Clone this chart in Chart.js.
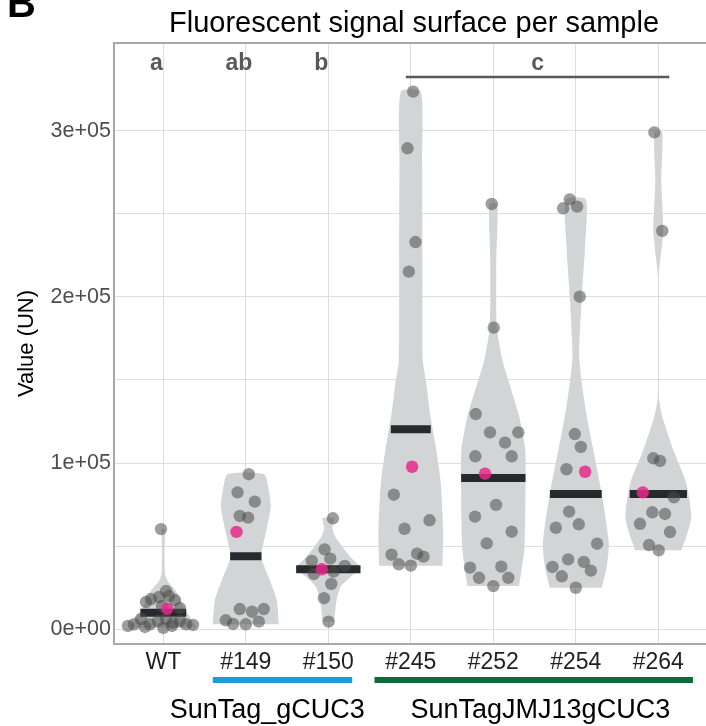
<!DOCTYPE html>
<html>
<head>
<meta charset="utf-8">
<script src="https://cdn.jsdelivr.net/npm/chart.js@4.4.1/dist/chart.umd.min.js"></script>
<style>
  html, body { margin: 0; padding: 0; background: #ffffff; overflow: hidden; }
  canvas { display: block; }
</style>
</head>
<body>
<canvas id="violinChart" width="706" height="726"></canvas>
<script>
// ================================================================
//  DATA
// ================================================================
const categories = ['WT', '#149', '#150', '#245', '#252', '#254', '#264'];

// individual measurements + their horizontal jitter (category units)
const wtValues  = [60300, 23000, 18200, 19400, 17600, 20000, 16400, 14000, 12800, 6200, 3000, 5000, 6200, 3800, 5000, 3000, 3000, 1400, 800, 2000, 2600, 2000];
const wtJitter  = [-0.028, 0.033, -0.149, -0.052, 0.142, 0.069, -0.210, -0.016, 0.202, -0.270, -0.161, -0.064, 0.033, 0.118, 0.202, 0.275, -0.355, -0.222, 0.0, 0.105, 0.360, -0.428];
const s149Values = [93300, 82400, 76800, 68200, 67200, 12200, 10600, 12200, 5400, 3200, 3000, 4600];
const s149Jitter = [0.036, -0.100, 0.109, -0.073, 0.028, -0.073, 0.076, 0.218, -0.242, -0.154, 0.0, 0.158];
const s150Values = [66800, 48100, 42500, 41100, 38100, 33300, 34700, 27300, 18700, 4600];
const s150Jitter = [0.056, -0.045, 0.024, -0.200, 0.200, -0.175, 0.064, 0.036, -0.053, 0.004];
const s245Values = [323500, 289400, 233000, 215200, 81000, 65600, 60500, 44900, 45500, 43700, 39100, 38300];
const s245Jitter = [0.028, -0.040, 0.057, -0.024, -0.206, 0.227, -0.076, -0.234, 0.076, 0.154, -0.145, 0.0];
const s252Values = [255900, 181500, 129500, 118500, 112300, 118500, 104100, 104100, 74800, 67800, 58700, 51700, 37100, 31000, 37700, 31000, 26000];
const s252Jitter = [-0.019, 0.005, -0.213, -0.040, 0.142, 0.303, -0.218, 0.223, 0.033, -0.222, 0.223, -0.080, -0.282, -0.173, 0.097, 0.182, 0.0];
const s254Values = [258700, 253300, 254300, 200100, 117500, 109700, 96300, 70800, 61100, 63200, 51500, 42100, 37500, 40500, 35300, 31900, 25000];
const s254Jitter = [-0.073, -0.154, 0.016, 0.048, -0.012, 0.061, -0.113, -0.081, -0.242, 0.036, 0.258, -0.093, -0.283, 0.097, 0.182, -0.170, 0.0];
const s264Values = [299000, 239700, 102900, 101300, 79400, 70400, 69400, 63500, 58500, 50700, 47500];
const s264Jitter = [-0.048, 0.048, -0.061, 0.021, 0.190, -0.073, 0.081, -0.222, 0.142, -0.113, 0.005];

// violin outlines: [value, half width in category units]
const violinWT  = [[800, 0.40], [3800, 0.375], [11600, 0.266], [17600, 0.206], [23600, 0.145], [28500, 0.06], [32700, 0.024], [41700, 0.015], [53700, 0.018], [60300, 0.018]];
const violin149 = [[3000, 0.40], [17600, 0.375], [29700, 0.29], [43500, 0.187], [57900, 0.242], [73600, 0.302], [83800, 0.278], [93300, 0.221]];
const violin150 = [[4600, 0.07], [17600, 0.10], [25600, 0.15], [31600, 0.27], [36900, 0.39], [42900, 0.28], [49700, 0.17], [55700, 0.085], [61000, 0.05], [66800, 0.07]];
const violin245 = [[38300, 0.383], [58000, 0.393], [88000, 0.363], [108000, 0.308], [128000, 0.238], [148000, 0.187], [162000, 0.145], [222000, 0.141], [282000, 0.137], [323500, 0.121]];
const violin252 = [[26000, 0.314], [47700, 0.375], [67700, 0.387], [88000, 0.39], [108000, 0.387], [128000, 0.314], [148000, 0.193], [162000, 0.109], [182000, 0.042], [222000, 0.036], [255900, 0.048]];
const violin254 = [[25000, 0.314], [37700, 0.375], [51700, 0.40], [81800, 0.314], [107900, 0.212], [128000, 0.133], [148000, 0.073], [165000, 0.04], [200000, 0.073], [228000, 0.109], [258700, 0.121]];
const violin264 = [[47500, 0.278], [55700, 0.339], [67700, 0.40], [88000, 0.339], [108000, 0.181], [128000, 0.048], [140000, 0.006], [180000, 0.004], [212000, 0.004], [239700, 0.06], [270000, 0.036], [299000, 0.048]];

// summary marks
const medians      = [10000, 44000, 36100, 120300, 91000, 81400, 81400];
const medianWidths = [0.278, 0.19, 0.39, 0.242, 0.39, 0.314, 0.347];
const means        = [12400, 58600, 36100, 97800, 93600, 94800, 82400];
const meanJitter   = [0.048, -0.113, -0.078, 0.016, -0.100, 0.113, -0.189];

// significance letters and the category spans they cover
const sigLetters = ['a', 'ab', 'b', 'c'];
const sigSpans   = [[0, 0], [1, 1], [2, 2], [3, 6]];

// genotype groups under the axis
const groupNames = ['SunTag_gCUC3', 'SunTagJMJ13gCUC3'];
const groupColors = ['#1b9bd7', '#0f6b3b'];

const yTickValues = [0, 50000, 100000, 150000, 200000, 250000, 300000];
const yTickLabels = ['0e+00', '', '1e+05', '', '2e+05', '', '3e+05'];

const chartTitle = 'Fluorescent signal surface per sample';
const yTitle = 'Value (UN)';

// ================================================================
//  BUILD DATASETS
// ================================================================
const FONT = "'Liberation Sans', Arial, sans-serif";
const allValues = [wtValues, s149Values, s150Values, s245Values, s252Values, s254Values, s264Values];
const allJitter = [wtJitter, s149Jitter, s150Jitter, s245Jitter, s252Jitter, s254Jitter, s264Jitter];
const allViolins = [violinWT, violin149, violin150, violin245, violin252, violin254, violin264];

function violinShape(profile, i) {
  const left = profile.map(([v, w]) => ({ x: i - w, y: v }));
  const right = profile.slice().reverse().map(([v, w]) => ({ x: i + w, y: v }));
  return left.concat(right);
}

const violinSets = allViolins.map((p, i) => ({
  data: violinShape(p, i),
  showLine: true, fill: 'shape', tension: 0.2,
  backgroundColor: '#d3d4d6', borderWidth: 0, borderColor: 'rgba(0,0,0,0)',
  pointRadius: 0, order: 4
}));

const medianData = [];
medians.forEach((m, i) => {
  medianData.push({ x: i - medianWidths[i], y: m }, { x: i + medianWidths[i], y: m }, { x: i, y: null });
});

const pointData = [];
allValues.forEach((vals, i) => vals.forEach((v, k) => pointData.push({ x: i + allJitter[i][k], y: v })));

const meanData = means.map((m, i) => ({ x: i + meanJitter[i], y: m }));

// ================================================================
//  ANNOTATIONS (title, letters, group bars)
// ================================================================
const annotations = {
  id: 'annotations',
  afterDraw(chart) {
    const { ctx, chartArea: a, scales: { x } } = chart;
    ctx.save();

    // top frame line
    ctx.strokeStyle = '#a8a8a8';
    ctx.lineWidth = 2;
    ctx.beginPath();
    ctx.moveTo(a.left - 1, a.top);
    ctx.lineTo(chart.width, a.top);
    ctx.stroke();

    // panel tag + title
    ctx.fillStyle = '#000000';
    ctx.textBaseline = 'alphabetic';
    ctx.textAlign = 'left';
    ctx.font = 'bold 40px ' + FONT;
    ctx.fillText('B', 7, 17);
    ctx.textAlign = 'center';
    ctx.font = '29px ' + FONT;
    ctx.fillText(chartTitle, 414, 32);

    // significance letters
    ctx.font = 'bold 23px ' + FONT;
    ctx.fillStyle = '#595959';
    ctx.strokeStyle = '#595959';
    ctx.lineWidth = 2.5;
    sigLetters.forEach((t, k) => {
      const [from, to] = sigSpans[k];
      if (from === to) {
        ctx.fillText(t, x.getPixelForValue(from) - 7, 70);
      } else {
        const x0 = x.getPixelForValue(from) - 5, x1 = x.getPixelForValue(to) + 11;
        ctx.beginPath();
        ctx.moveTo(x0, 77);
        ctx.lineTo(x1, 77);
        ctx.stroke();
        ctx.fillText(t, (x0 + x1) / 2, 70);
      }
    });

    // genotype group bars + names
    const barFrom = [0.60, 2.56], barTo = [2.29, 6.42], nameAt = [1.26, 4.57];
    ctx.lineWidth = 6;
    ctx.font = '27px ' + FONT;
    groupNames.forEach((g, k) => {
      ctx.strokeStyle = groupColors[k];
      ctx.beginPath();
      ctx.moveTo(x.getPixelForValue(barFrom[k]), 680);
      ctx.lineTo(x.getPixelForValue(barTo[k]), 680);
      ctx.stroke();
      ctx.fillStyle = '#000000';
      ctx.fillText(g, x.getPixelForValue(nameAt[k]), 718);
    });
    ctx.restore();
  }
};

// ================================================================
//  CHART
// ================================================================
new Chart(document.getElementById('violinChart').getContext('2d'), {
  type: 'scatter',
  data: {
    datasets: [
      { data: meanData, backgroundColor: 'rgba(231,41,138,0.85)', pointRadius: 6.2, pointBorderWidth: 0, order: 1 },
      { data: pointData, backgroundColor: 'rgba(77,77,77,0.55)', pointRadius: 6.2, pointBorderWidth: 0, order: 2 },
      { data: medianData, showLine: true, spanGaps: false, borderColor: '#272a2d', borderWidth: 8,
        borderCapStyle: 'butt', pointRadius: 0, order: 3 },
      ...violinSets
    ]
  },
  options: {
    responsive: false,
    devicePixelRatio: 1,
    animation: false,
    events: [],
    layout: { autoPadding: false, padding: { top: 43, left: 0, right: 0, bottom: 0 } },
    plugins: { legend: { display: false }, tooltip: { enabled: false }, title: { display: false } },
    scales: {
      x: {
        type: 'linear', min: -0.5976, max: 6.578,
        afterFit: s => { s.height = 82; },
        afterBuildTicks: s => { s.ticks = categories.map((_, i) => ({ value: i })); },
        ticks: {
          callback: v => categories[v], color: '#1f1f1f', padding: 5,
          font: { family: FONT, size: 23 }, autoSkip: false, maxRotation: 0
        },
        grid: { color: '#dedede', lineWidth: 1, drawTicks: false },
        border: { color: '#a8a8a8', width: 2 }
      },
      y: {
        min: -8845, max: 352768,
        afterFit: s => { s.width = 114; },
        afterBuildTicks: s => { s.ticks = yTickValues.map(v => ({ value: v })); },
        ticks: {
          callback: (v, i) => yTickLabels[i], color: '#4d4d4d', padding: 3,
          font: { family: FONT, size: 21.5 }
        },
        grid: { color: '#dedede', lineWidth: 1, drawTicks: false },
        border: { color: '#a8a8a8', width: 2 },
        title: { display: true, text: yTitle, color: '#000000', font: { family: FONT, size: 22 }, padding: { top: 14, bottom: 0 } }
      }
    }
  },
  plugins: [annotations]
});
</script>
</body>
</html>
